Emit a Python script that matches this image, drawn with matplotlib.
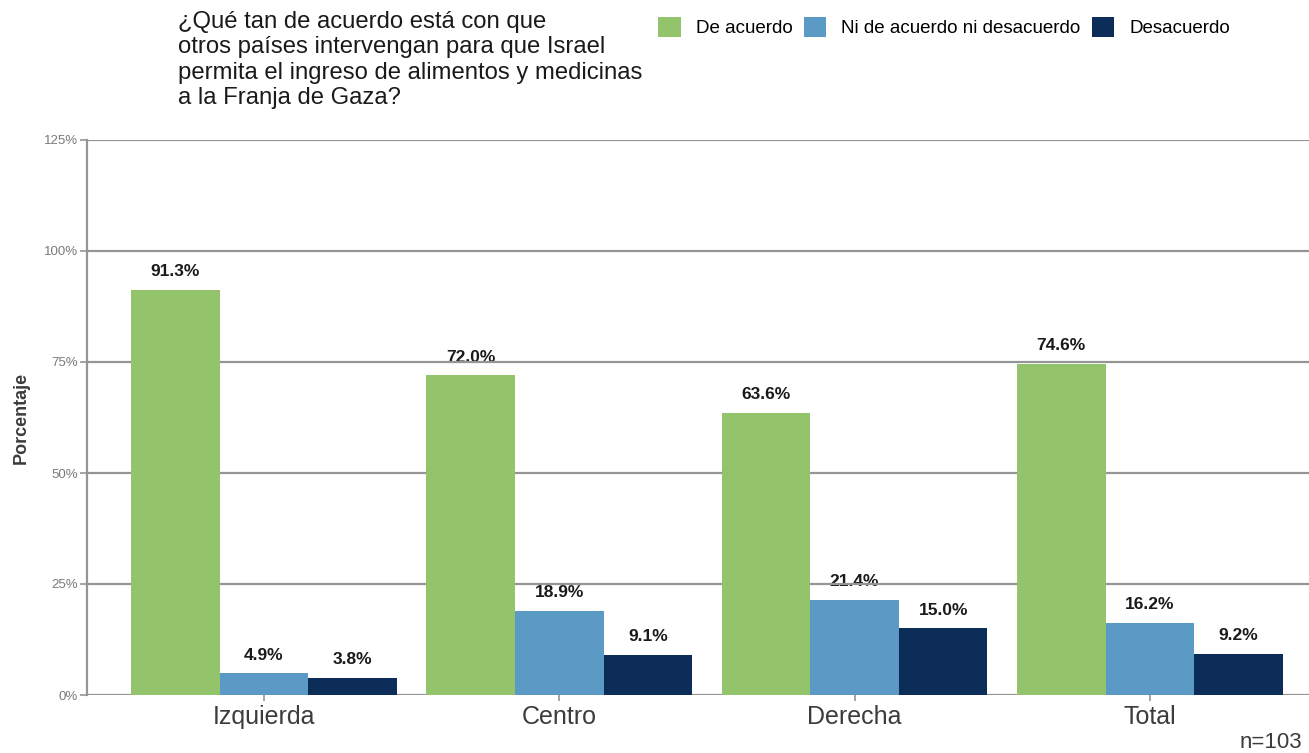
import matplotlib
matplotlib.use("Agg")
import matplotlib.pyplot as plt
import numpy as np

categories = ["Izquierda", "Centro", "Derecha", "Total"]
series_names = ["De acuerdo", "Ni de acuerdo ni desacuerdo", "Desacuerdo"]
de_acuerdo = [91.3, 72.0, 63.6, 74.6]
ni_ni = [4.9, 18.9, 21.4, 16.2]
desacuerdo = [3.8, 9.1, 15.0, 9.2]
yticks = [0, 25, 50, 75, 100, 125]
ytick_labels = ["0%", "25%", "50%", "75%", "100%", "125%"]
colors = ["#93C36B", "#5B9AC5", "#0B2D57"]

plt.rcParams['font.family'] = ['Liberation Sans', 'DejaVu Sans']

W, H = 1309, 753
fig = plt.figure(figsize=(W / 100, H / 100), dpi=100)

ax_left = 86.8 / W
ax_right = 1327 / W
ax_bottom = (H - 695) / H
ax_top = (H - 140) / H
ax = fig.add_axes([ax_left, ax_bottom, ax_right - ax_left, ax_top - ax_bottom])

x = np.arange(1, len(categories) + 1)
width = 0.3
series = [de_acuerdo, ni_ni, desacuerdo]
for i, (vals, col) in enumerate(zip(series, colors)):
    pos = x + (i - 1) * width
    ax.bar(pos, vals, width=width, color=col, zorder=2, label=series_names[i])
    for p, v in zip(pos, vals):
        ax.text(p, v + 2.4, f"{v:.1f}%", ha="center", va="bottom",
                fontsize=12.5, fontweight="bold", color="#1a1a1a", zorder=1)

for t in yticks:
    ax.axhline(t, color="#959595", lw=1.6, zorder=1.5)

ax.set_xlim(0.4, 4.6)
ax.set_ylim(0, 125)
ax.set_yticks(yticks)
ax.set_yticklabels(ytick_labels, fontsize=9.5, color="#7a7a7a")
ax.set_xticks(x)
ax.set_xticklabels(categories, fontsize=18, color="#3c3c3c")
for s in ["top", "right", "bottom"]:
    ax.spines[s].set_visible(False)
ax.spines["left"].set_color("#959595")
ax.spines["left"].set_linewidth(1.6)
ax.tick_params(axis="y", length=5, width=1.2, color="#959595", pad=1.5)
ax.tick_params(axis="x", length=4, width=1.2, color="#959595", pad=3)
ax.set_ylabel("Porcentaje", fontsize=13, fontweight="bold", color="#3c3c3c", labelpad=10)

fig.text(178 / W, 1 - 11 / H,
         "¿Qué tan de acuerdo está con que\notros países intervengan para que Israel\n"
         "permita el ingreso de alimentos y medicinas\na la Franja de Gaza?",
         ha="left", va="top", fontsize=17.2, color="#1a1a1a", linespacing=1.2)

handles, labels = ax.get_legend_handles_labels()
leg = fig.legend(handles, labels, loc="center left", bbox_to_anchor=(645 / W, 1 - 27 / H),
                 ncol=3, frameon=False, fontsize=13.5, handlelength=1.2, handleheight=1.3,
                 columnspacing=0.6, handletextpad=0.8, borderpad=0.2)

fig.text(1240 / W, 1 - 742 / H, "n=103", ha="left", va="center", fontsize=16, color="#3c3c3c")

fig.savefig("out.png", dpi=100)
